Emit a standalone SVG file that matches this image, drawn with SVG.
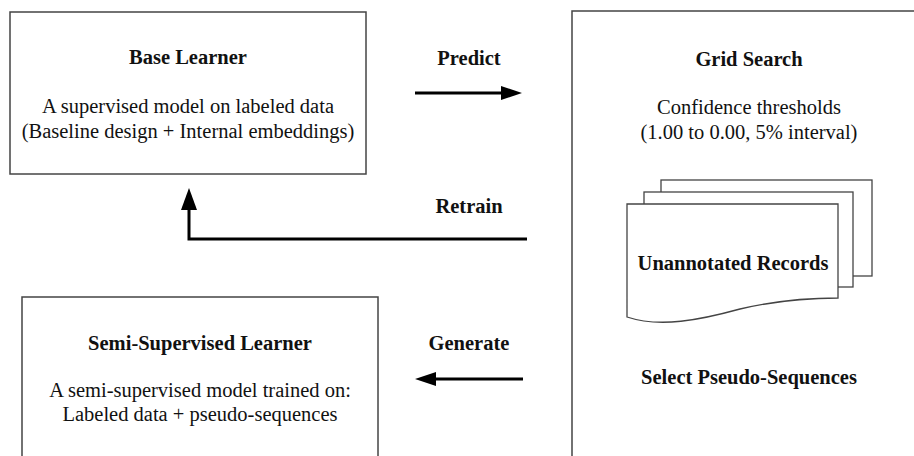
<svg xmlns="http://www.w3.org/2000/svg" width="914" height="456" viewBox="0 0 914 456">
<defs>
<style>
.box{fill:#fff;stroke:#444;stroke-width:1.5}
.doc{fill:#fff;stroke:#444;stroke-width:1.3}
.t{font-family:"Liberation Serif","Times New Roman",serif;font-size:20.5px;fill:#111;text-anchor:middle}
.b{font-weight:bold}
.conn{fill:none;stroke:#000;stroke-width:3}
</style>
</defs>
<rect width="914" height="456" fill="#fff"/>
<g id="base-learner">
<rect class="box" x="10" y="12" width="356" height="162"/>
<text class="t b" x="188" y="64">Base Learner</text>
<text class="t" x="188" y="113">A supervised model on labeled data</text>
<text class="t" x="188" y="138">(Baseline design + Internal embeddings)</text>
</g>
<g id="grid-search">
<rect class="box" x="572" y="11" width="360" height="460"/>
<text class="t b" x="749" y="66">Grid Search</text>
<text class="t" x="749" y="114">Confidence thresholds</text>
<text class="t" x="749" y="139">(1.00 to 0.00, 5% interval)</text>
<g id="unannotated-records">
<rect class="doc" x="661" y="180" width="211" height="96"/>
<rect class="doc" x="644" y="192" width="209" height="95"/>
<path class="doc" d="M627,204 L838,204 L838,298 C800,298 770,302 740,309 C700,320 660,328 627,317 Z"/>
<text class="t b" x="733" y="270">Unannotated Records</text>
</g>
<text class="t b" x="749" y="384">Select Pseudo-Sequences</text>
</g>
<g id="semi-supervised-learner">
<rect class="box" x="22" y="297" width="356" height="180"/>
<text class="t b" x="200" y="350">Semi-Supervised Learner</text>
<text class="t" x="200" y="397">A semi-supervised model trained on:</text>
<text class="t" x="200" y="421">Labeled data + pseudo-sequences</text>
</g>
<g id="connectors">
<path class="conn" d="M415,93 L502,93"/>
<path d="M501,86 L522,93 L501,100 Z" fill="#000"/>
<text class="t b" x="469" y="65">Predict</text>
<path class="conn" d="M527,239 L189,239 L189,209"/>
<path d="M181,210 L189,188 L197,210 Z" fill="#000"/>
<text class="t b" x="469" y="213">Retrain</text>
<path class="conn" d="M523,379 L434,379"/>
<path d="M436,372 L415,379 L436,386 Z" fill="#000"/>
<text class="t b" x="469" y="350">Generate</text>
</g>
</svg>
